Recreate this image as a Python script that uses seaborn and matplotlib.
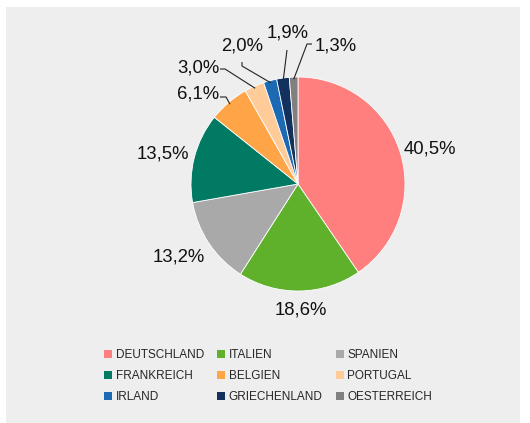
import numpy as np
import matplotlib
matplotlib.use("Agg")
import matplotlib.pyplot as plt
import matplotlib.patches as mpatches
import seaborn as sns

# data
countries = ["DEUTSCHLAND", "ITALIEN", "SPANIEN", "FRANKREICH", "BELGIEN",
             "PORTUGAL", "IRLAND", "GRIECHENLAND", "OESTERREICH"]
shares = [40.5, 18.6, 13.2, 13.5, 6.1, 3.0, 2.0, 1.9, 1.3]
labels = ["40,5%", "18,6%", "13,2%", "13,5%", "6,1%", "3,0%", "2,0%", "1,9%", "1,3%"]
colors = ["#FF7F7F", "#5FB12B", "#A9A9A9", "#007A62", "#FFA447",
          "#FFCC99", "#1C6AB3", "#12315E", "#808080"]

sns.set_style("white")
plt.rcParams["font.family"] = ["Liberation Sans", "DejaVu Sans"]

W, H = 530, 423
cx, cy, r = 298, 184, 107   # pie centre / radius in pixels

fig = plt.figure(figsize=(W / 100, H / 100), dpi=100)
fig.patch.set_facecolor("white")
fig.patches.append(mpatches.Rectangle((6 / W, 0), 514 / W, (H - 7) / H,
                                      transform=fig.transFigure,
                                      facecolor="#EEEEEE", edgecolor="none",
                                      zorder=-10))

ax = fig.add_axes([0, 0, 1, 1])
ax.set_facecolor("none")
wedges, _ = ax.pie(shares, colors=colors, startangle=90, counterclock=False,
                   radius=1, wedgeprops=dict(edgecolor="white", linewidth=0.6))
ax.set_xlim(-cx / r, (W - cx) / r)
ax.set_ylim(-(H - cy) / r, cy / r)
ax.set_aspect("equal")
ax.axis("off")


def px(x, y):
    return (x - cx) / r, (cy - y) / r


# label text positions (pixels) and leader elbow points
label_pos = [(430, 149), (301, 310), (179, 257), (163, 154), (198, 94),
             (198, 68), (242, 46), (288, 33), (336, 46)]
elbows = {4: [(220, 97), (226, 97)],
          5: [(220, 69), (225, 69)],
          6: [(242, 62), (242, 66)],
          7: [(287, 50)],
          8: [(312, 44), (307, 44)]}

for i, (w, lab) in enumerate(zip(wedges, labels)):
    tx, ty = px(*label_pos[i])
    ax.text(tx, ty, lab, ha="center", va="center", fontsize=13.3, color="#111111")
    if i in elbows:
        th = np.deg2rad((w.theta1 + w.theta2) / 2)
        pts = [px(*p) for p in elbows[i]] + [(np.cos(th) * 0.98, np.sin(th) * 0.98)]
        xs, ys = zip(*pts)
        ax.plot(xs, ys, color="#222222", lw=0.8, solid_capstyle="butt")

order = [0, 3, 6, 1, 4, 7, 2, 5, 8]
handles = [mpatches.Patch(facecolor=colors[k], edgecolor="none", label=countries[k])
           for k in order]
fig.legend(handles=handles, ncol=3, loc="center", bbox_to_anchor=(268 / W, 1 - 376 / H),
           frameon=False, fontsize=8.5, handlelength=0.7, handleheight=0.7,
           handletextpad=0.3, columnspacing=1.1, labelspacing=0.75,
           borderpad=0)

fig.savefig("out.png", dpi=100)
